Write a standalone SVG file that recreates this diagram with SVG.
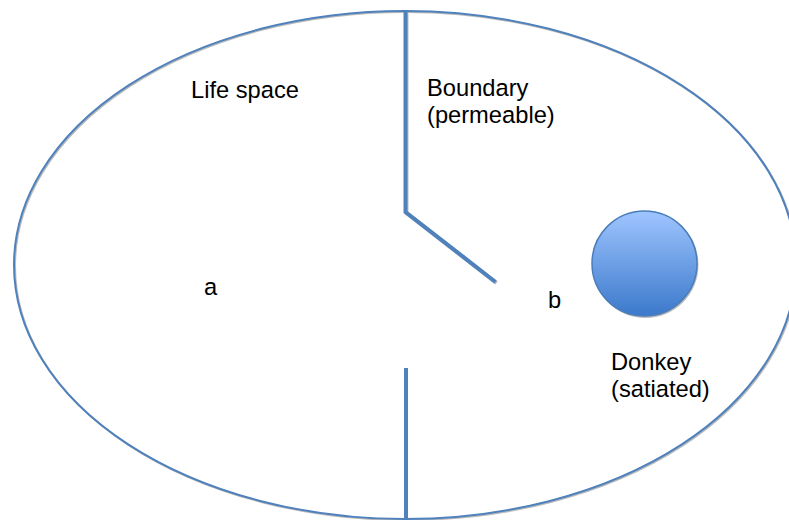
<svg xmlns="http://www.w3.org/2000/svg" width="789" height="520" viewBox="0 0 789 520">
<style>
.t{font-family:"Liberation Sans",Arial,sans-serif;font-size:23.7px;fill:#000}
.ln{stroke:#4f81bd;stroke-width:4;fill:none}
.sh{stroke:#bbbbbb;stroke-width:4;fill:none}
</style>
<defs>
<linearGradient id="g" x1="0" y1="0" x2="0" y2="1">
<stop offset="0" stop-color="#9fc5ff"/>
<stop offset="1" stop-color="#3b79cb"/>
</linearGradient>
</defs>
<rect width="789" height="520" fill="#fff"/>
<g id="lifespace">
<ellipse cx="406" cy="266" rx="391" ry="254" fill="none" stroke="#bbbbbb" stroke-width="2"/>
<ellipse cx="405" cy="265" rx="391" ry="254" fill="none" stroke="#4f81bd" stroke-width="2"/>
</g>
<g id="connectors">
<polyline class="sh" points="406.5,12 406.5,213 496.5,283"/>
<polyline class="ln" points="405.5,11 405.5,212 495.5,282"/>
<line class="ln" x1="406" y1="368" x2="406" y2="518"/>
</g>
<g id="donkey">
<circle cx="645.5" cy="265" r="53" fill="#bbbbbb"/>
<circle cx="644.5" cy="263.5" r="52.5" fill="url(#g)" stroke="#4a7ebb" stroke-width="1.5"/>
</g>
<g id="labels">
<text class="t" x="191" y="98">Life space</text>
<text class="t" x="427" y="96">Boundary</text>
<text class="t" x="427" y="123">(permeable)</text>
<text class="t" x="204" y="295">a</text>
<text class="t" x="548" y="308">b</text>
<text class="t" x="611" y="370">Donkey</text>
<text class="t" x="611" y="397">(satiated)</text>
</g>
</svg>
